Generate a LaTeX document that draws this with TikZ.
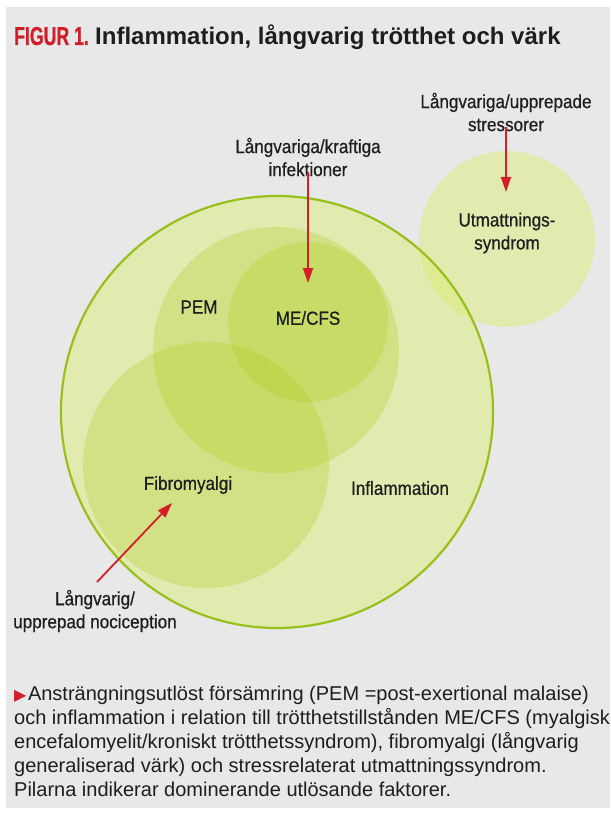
\documentclass[tikz,border=0pt]{standalone}
\usepackage{fontspec}
\setmainfont{Liberation Sans}
\newfontfamily\labfont[FakeStretch=0.9,FakeBold=0.6]{Liberation Sans}
\newfontfamily\figfont[FakeStretch=0.68,FakeBold=0.8]{Liberation Sans}
\newfontfamily\symfont{DejaVu Sans}
\usetikzlibrary{arrows.meta}
\definecolor{bggray}{RGB}{232,232,232}
\definecolor{ringgreen}{RGB}{152,192,28}
\definecolor{palefill}{RGB}{226,234,176}
\definecolor{bigfill}{RGB}{220,236,120}
\definecolor{midgreen}{RGB}{172,204,26}
\definecolor{arrowred}{RGB}{214,30,40}
\definecolor{titlered}{RGB}{210,30,40}
\definecolor{textdark}{RGB}{30,30,30}
\begin{document}
\begin{tikzpicture}[x=1pt,y=-1pt,
  lab/.style={font=\labfont\fontsize{19}{23}\selectfont, align=center, text=textdark, inner sep=0pt},
  cause/.style={draw=arrowred, line width=1.8pt, -{Triangle[length=15pt,width=10pt]}},
  zone/.style={circle, inner sep=0pt, draw=none},
  overlap/.style={zone, fill=midgreen, fill opacity=0.28},
  capline/.style={anchor=base west, inner sep=0pt, text=textdark, font=\fontsize{20}{24}\selectfont}
]
\useasboundingbox (0,0) rectangle (610,813);
\fill[white] (0,0) rectangle (610,813);
\fill[bggray] (6,7) rectangle (610,808);

% title
\node[anchor=base west, inner sep=0pt, text=titlered, font=\figfont\bfseries\fontsize{26}{28}\selectfont] (fig) at (14,45) {FIGUR 1.};
\node[anchor=base west, inner sep=0pt, text=textdark, font=\bfseries\fontsize{24}{28}\selectfont] (title) at (95,45) {Inflammation, långvarig trötthet och värk};

% circles
\node[zone, fill=palefill, minimum size=176pt] (utmC) at (507,239) {};
\node[zone, fill=bigfill, fill opacity=0.5, minimum size=432pt] (inflC) at (277,412) {};
\node[overlap, minimum size=246pt] (pemC) at (276,350) {};
\node[overlap, minimum size=160pt] (mecfsC) at (308,322) {};
\node[overlap, minimum size=246pt] (fibroC) at (206,465) {};
\node[zone, draw=ringgreen, line width=2.2pt, minimum size=432pt] (inflRing) at (277,412) {};

% labels
\node[lab] (pem) at (199,307) {PEM};
\node[lab] (mecfs) at (308,318) {ME/CFS};
\node[lab] (fibro) at (188,485) {Fibromyalgi};
\node[lab] (infl) at (400,488) {Inflammation};
\node[lab] (utm) at (507,233) {Utmattnings-\\syndrom};
\node[lab] (infek) at (308,157) {Långvariga/kraftiga\\infektioner};
\node[lab] (stress) at (506,112) {Långvariga/upprepade\\stressorer};
\node[lab] (noci) at (95,611) {Långvarig/\\upprepad nociception};

% arrows
\coordinate (meTip) at (308,283);
\coordinate (utmTip) at (506,192);
\coordinate (fibTip) at (172,503);
\coordinate (nociStart) at (97,582);
\draw[cause] (infek.south) ++(0,-4) -- (meTip);
\draw[cause] (stress.south) ++(0,-4) -- (utmTip);
\draw[cause] (nociStart) -- (fibTip);

% caption
\node[capline] (cap1) at (14,700) {{\symfont\fontsize{16}{16}\selectfont\color{titlered}▶}\kern1.5pt Ansträngningsutlöst försämring (PEM =post-exertional malaise)};
\node[capline] (cap2) at (14,724) {och inflammation i relation till trötthetstillstånden ME/CFS (myalgisk};
\node[capline] (cap3) at (14,748) {encefalomyelit/kroniskt trötthetssyndrom), fibromyalgi (långvarig};
\node[capline] (cap4) at (14,772) {generaliserad värk) och stressrelaterat utmattningssyndrom.};
\node[capline] (cap5) at (14,796) {Pilarna indikerar dominerande utlösande faktorer.};
\end{tikzpicture}
\end{document}
